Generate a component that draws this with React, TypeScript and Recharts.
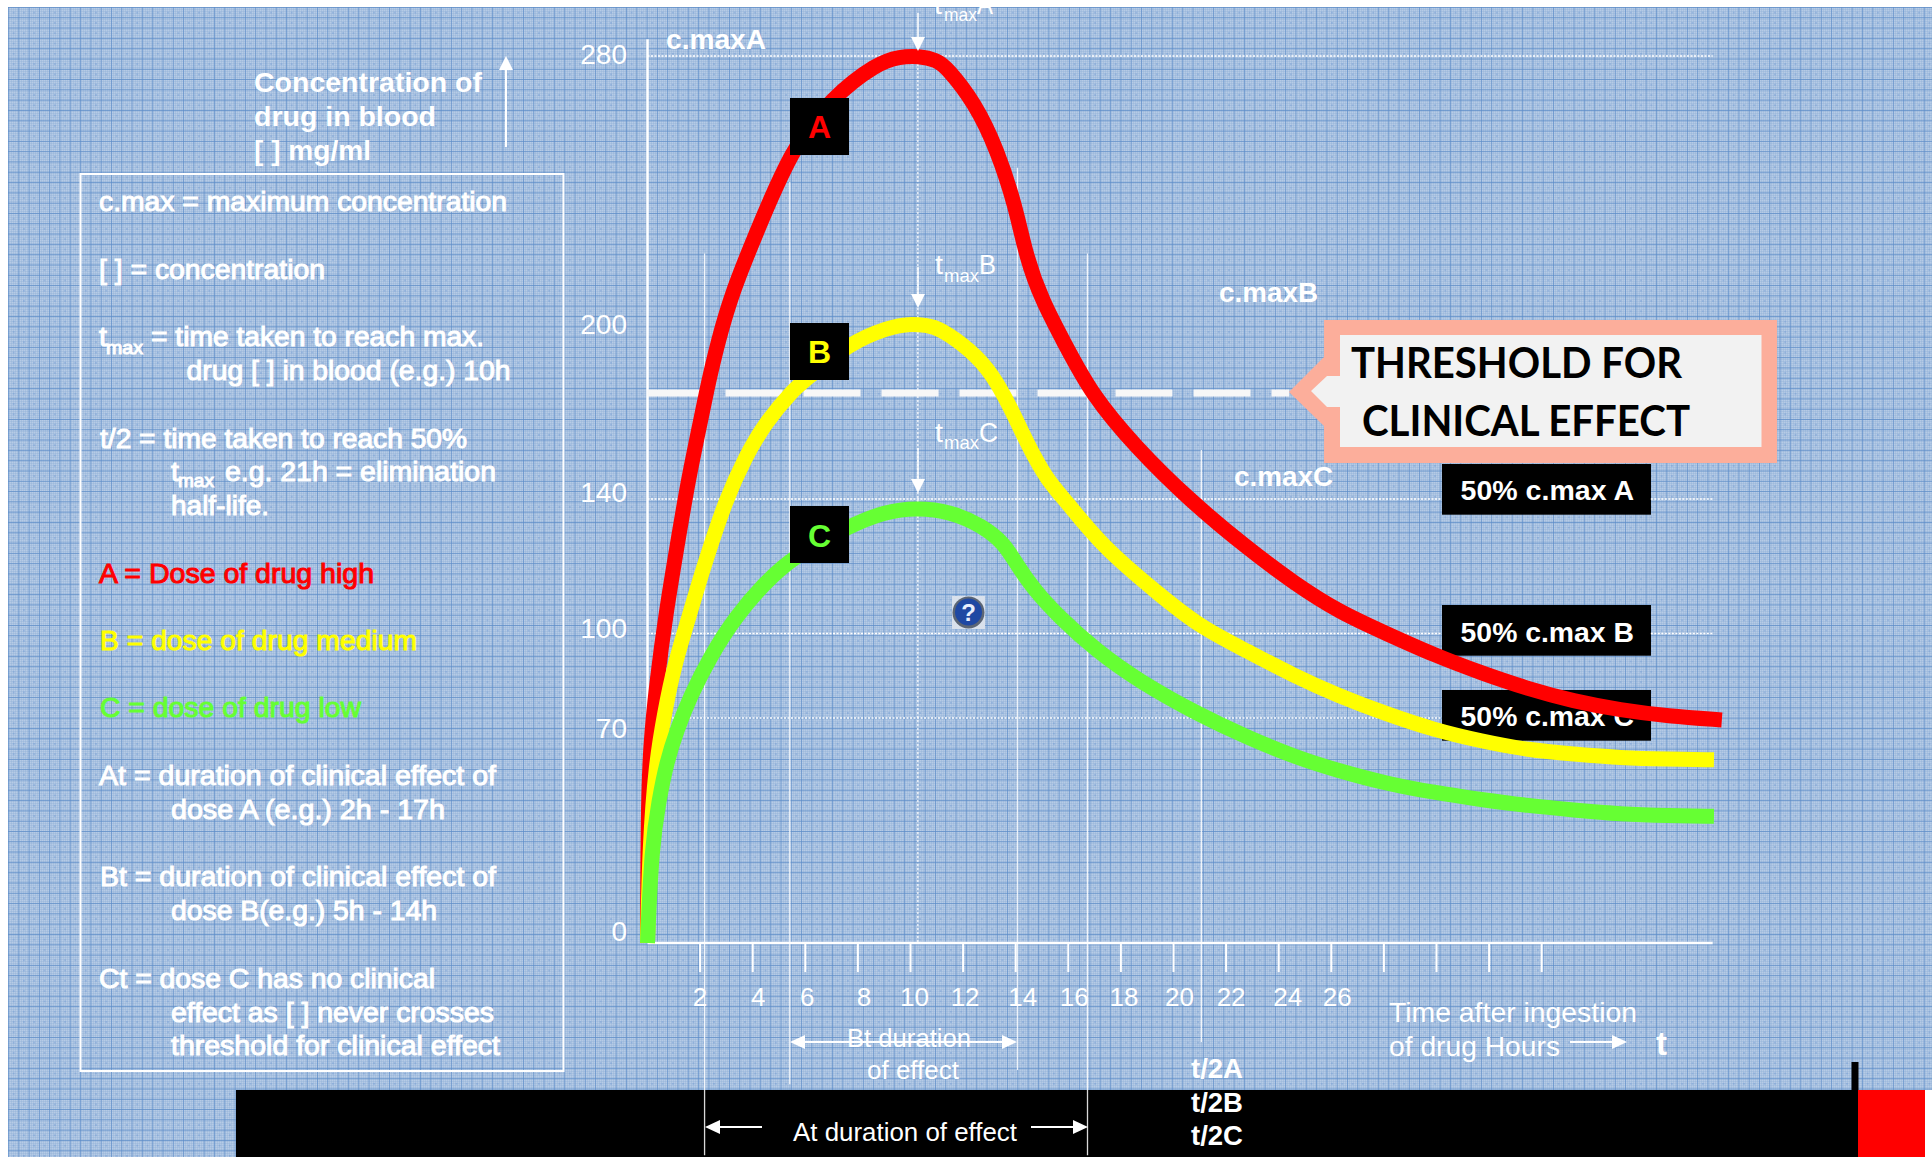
import { Line, LineChart, ReferenceLine, XAxis, YAxis } from 'recharts'

const WIDTH = 1932
const HEIGHT = 1157
const FONT = '"Liberation Sans", Arial, sans-serif'

// hours after ingestion / concentration
const hoursA = [0, 0.02, 0.1, 0.36, 0.7, 1.12, 1.55, 1.87, 2.25, 2.69, 3.25, 4.02, 5.5, 7, 8.73, 9.6, 10.3, 11, 11.4, 12.45, 13.3, 14, 14.4, 15, 15.85, 16.87, 18.56, 20.6, 22.8, 24.6, 26.3, 28.1, 29.9, 31.7, 33.5, 35.2, 37, 38.8, 40.85]
const doseA = [0, 40, 61, 83.5, 106, 125.8, 146.5, 160.2, 177.4, 194.5, 210, 225, 252.8, 267.5, 277.9, 279.8, 280, 278.8, 276.4, 266, 252, 235, 220, 207, 193.5, 176, 157.8, 139.7, 125.4, 114.9, 106.4, 100, 92.4, 86, 80.3, 76, 72.8, 70.7, 69.4]

const hoursB = [0, 0.08, 0.32, 0.65, 1, 1.62, 2.1, 2.98, 3.73, 4.47, 5.53, 6.01, 7.66, 9.22, 9.9, 10.6, 11.1, 12.3, 13.1, 13.8, 14.5, 15.2, 15.85, 17.3, 19.4, 21, 22.8, 24.6, 26.3, 28.1, 29.9, 31.7, 33.5, 35.2, 37, 38.8, 40.55]
const doseB = [0, 30, 56, 71.8, 88.2, 106.1, 119, 140, 154.5, 166, 177.4, 180.8, 193.5, 199, 200, 199.6, 198.6, 191, 183, 171.5, 157.8, 146.5, 140, 125.8, 112, 102, 93.8, 84.9, 77.8, 71.4, 66.3, 62.8, 60, 58.8, 57.6, 57.2, 57]

const hoursC = [0, 0.16, 0.44, 0.72, 1.12, 1.62, 2.38, 3.35, 4.45, 5.55, 7.62, 9, 10.24, 11.5, 12.75, 13.57, 14, 14.7, 15.65, 17.03, 18.7, 21, 22.8, 24.6, 26.3, 28.1, 29.9, 31.7, 33.5, 35.2, 37, 38.8, 40.55]
const doseC = [0, 30, 44.5, 56, 66.3, 77.6, 91.8, 105, 115, 122.9, 131.8, 136.2, 137.4, 136.3, 132, 126.7, 121, 113, 105, 94.2, 83, 71, 64, 57.9, 53.5, 49.6, 46.8, 44.6, 42.7, 41.4, 40.1, 39.6, 39.4]

const xTicks = [2, 4, 6, 8, 10, 12, 14, 16, 18, 20, 22, 24, 26, 28, 30, 32, 34]
const xLabelled = [2, 4, 6, 8, 10, 12, 14, 16, 18, 20, 22, 24, 26]
const yTicks = [0, 70, 100, 140, 200, 280]

const THRESHOLD = 176.3
const dottedLevels = [140, 100, 70]
const durationLines = [2.17, 5.41, 14.07, 16.73, 21.06]
const durationTops = [221, 242.4, 246.6, 221, 156.8]
const durationBottoms = [-66, -43.9, -39.5, -66, -30.8]

// the drawn y axis is not evenly spaced: fraction of the axis height at each labelled value
const yStops = [0, 70, 100, 140, 200, 280]
const yFractions = [0, 0.2537, 0.3488, 0.5006, 0.6979, 1]

// small d3-like scale so the hand drawn axis spacing goes through the library
function stretchedScale(dom = [0, 280], rng = [1, 0]) {
  const scale: any = (v: number) => {
    let i = 0
    while (i < yStops.length - 2 && v > yStops[i + 1]) i++
    const t = (v - yStops[i]) / (yStops[i + 1] - yStops[i])
    const f = yFractions[i] + t * (yFractions[i + 1] - yFractions[i])
    return rng[0] + f * (rng[1] - rng[0])
  }
  scale.domain = (d?: number[]) => (d ? stretchedScale(d, rng) : dom)
  scale.range = (r?: number[]) => (r ? stretchedScale(dom, r) : rng)
  scale.copy = () => stretchedScale(dom, rng)
  scale.ticks = () => yStops
  return scale
}

const toRows = (hours: number[], values: number[]) => hours.map((h, i) => ({ h, v: values[i] }))

const xLabelShift: Record<number, number> = { 2: 0, 4: 5.6, 6: 2, 8: 6, 10: 4, 12: 2, 14: 7, 16: 6, 18: 3, 20: 6, 22: 5, 24: 9, 26: 6 }
const yLabelShift: Record<number, number> = { 0: -12, 70: 11, 100: -5, 140: -6, 200: 1, 280: -2 }

function XTick({ x, payload }: any) {
  if (!xLabelled.includes(payload.value)) return null
  return (
    <text x={x + xLabelShift[payload.value]} y={1006} textAnchor="middle" fill="#fff" fontSize={26} fontFamily={FONT}>
      {payload.value}
    </text>
  )
}

function YTick({ y, payload }: any) {
  return (
    <text x={627} y={y + yLabelShift[payload.value] + 9.5} textAnchor="end" fill="#fff" fontSize={28} fontFamily={FONT}>
      {payload.value}
    </text>
  )
}

function T({ x, y, w, size = 27, bold = false, fill = '#fff', halo = false, family = FONT, children }: any) {
  return (
    <text
      x={x}
      y={y}
      textLength={w}
      lengthAdjust="spacingAndGlyphs"
      fontSize={size}
      fontWeight={bold ? 700 : 400}
      fontFamily={family}
      fill={fill}
      stroke={halo ? fill : 'none'}
      strokeWidth={halo ? 1 : 0}
    >
      {children}
    </text>
  )
}

function Background() {
  return (
    <svg width={WIDTH} height={HEIGHT} style={{ position: 'absolute', left: 0, top: 0 }}>
      <defs>
        <pattern id="dither" width="2" height="2" patternUnits="userSpaceOnUse">
          <rect width="1" height="1" fill="#c0d2ea" />
          <rect x="1" y="1" width="1" height="1" fill="#98b5da" />
        </pattern>
        <pattern id="paper" x="8" y="7" width="10.3" height="10.3" patternUnits="userSpaceOnUse">
          <rect x="5" y="5" width="1.2" height="1.2" fill="#6d98d2" />
          <path d="M0 0H10.3M0 0V10.3" stroke="#5c8cc8" strokeWidth="1.3" fill="none" />
        </pattern>
      </defs>
      <rect width={WIDTH} height={HEIGHT} fill="#fff" />
      <rect x={8} y={7} width={WIDTH - 8} height={HEIGHT - 7} fill="#a8c1e0" />
      <rect x={8} y={7} width={WIDTH - 8} height={HEIGHT - 7} fill="url(#dither)" opacity={0.6} />
      <rect x={8} y={7} width={WIDTH - 8} height={HEIGHT - 7} fill="url(#paper)" />
      <rect x={236} y={1090} width={1622} height={67} fill="#000" />
      <rect x={1851.5} y={1062} width={7} height={28} fill="#000" />
      <rect x={1858} y={1090} width={67} height={67} fill="#f00" />
      <rect x={1925} y={1090} width={7} height={67} fill="#fff" />

      {/* legend panel */}
      <rect x={80.5} y={174} width={483} height={897} fill="none" stroke="#fff" strokeWidth={2} />
      <g>
        <T x={254} y={92} w={228} bold>Concentration of</T>
        <T x={254} y={126} w={182} bold>drug in blood</T>
        <T x={254} y={160} w={117} bold>[ ] mg/ml</T>
        <T x={99} y={211} w={408} halo>c.max = maximum concentration</T>
        <T x={99} y={279} w={226} halo>[ ] = concentration</T>
        <T x={99} y={346} w={8} halo>t</T>
        <T x={106} y={354} w={37} size={19} halo>max</T>
        <T x={151} y={346} w={333} halo>= time taken to reach max.</T>
        <T x={186.5} y={380} w={324} halo>drug [ ] in blood (e.g.) 10h</T>
        <T x={100} y={447.7} w={367} halo>t/2 = time taken to reach 50%</T>
        <T x={171} y={481} w={8} halo>t</T>
        <T x={178} y={487} w={36} size={19} halo>max</T>
        <T x={225} y={481} w={271} halo>e.g. 21h = elimination</T>
        <T x={171} y={514.5} w={98} halo>half-life.</T>
        <T x={99} y={583} w={275} fill="#f00" halo>A = Dose of drug high</T>
        <T x={100} y={650} w={317} fill="#ff0" halo>B = dose of drug medium</T>
        <T x={100} y={717} w={261} fill="#66ff33" halo>C = dose of drug low</T>
        <T x={99} y={785} w={397} halo>At = duration of clinical effect of</T>
        <T x={171} y={819} w={274} halo>dose A (e.g.) 2h - 17h</T>
        <T x={100} y={886} w={396} halo>Bt = duration of clinical effect of</T>
        <T x={171} y={920} w={266} halo>dose B(e.g.) 5h - 14h</T>
        <T x={99} y={988} w={336} halo>Ct = dose C has no clinical</T>
        <T x={171} y={1022} w={323} halo>effect as [ ] never crosses</T>
        <T x={171} y={1055} w={329} halo>threshold for clinical effect</T>
      </g>
      <path d="M506 147V66" stroke="#fff" strokeWidth={2} />
      <path d="M506 56L499 70H513Z" fill="#fff" />

      {/* 50% tags sit under the curves */}
      {[464, 605, 690].map((top) => (
        <rect key={top} x={1442} y={top} width={209} height={50.7} fill="#000" />
      ))}
      <T x={1460.6} y={499.6} w={173.4} bold>50% c.max A</T>
      <T x={1460.6} y={641.8} w={173.4} bold>50% c.max B</T>
      <T x={1460.6} y={725.7} w={173.4} bold>50% c.max C</T>
    </svg>
  )
}

function Arrow({ x1, x2, y }: any) {
  const dir = x2 > x1 ? 1 : -1
  return (
    <g>
      <path d={`M${x1} ${y}H${x2 - dir * 14}`} stroke="#fff" strokeWidth={2} />
      <path d={`M${x2} ${y}L${x2 - dir * 15} ${y - 7}V${y + 7}Z`} fill="#fff" />
    </g>
  )
}

function DownArrow({ y1, y2 }: any) {
  return (
    <g>
      <path d={`M918 ${y1}V${y2 - 12}`} stroke="#fff" strokeWidth={1.5} />
      <path d={`M918 ${y2}L911 ${y2 - 14}H925Z`} fill="#fff" />
    </g>
  )
}

function Overlay() {
  return (
    <svg width={WIDTH} height={HEIGHT} style={{ position: 'absolute', left: 0, top: 0, pointerEvents: 'none' }}>
      <T x={666} y={49} w={100} bold>c.maxA</T>
      <T x={1219} y={302} w={99} bold>c.maxB</T>
      <T x={1234} y={486} w={99} bold>c.maxC</T>

      <clipPath id="paperTop"><rect x={0} y={7} width={WIDTH} height={HEIGHT} /></clipPath>
      <g clipPath="url(#paperTop)">
        <T x={934} y={13.5} w={8} size={27}>t</T>
        <T x={944} y={21} w={33} size={19}>max</T>
        <T x={977} y={13.5} w={16} size={27}>A</T>
      </g>
      <T x={935} y={274} w={8}>t</T>
      <T x={944} y={282} w={35} size={19}>max</T>
      <T x={979} y={274} w={17}>B</T>
      <T x={935} y={442} w={8}>t</T>
      <T x={944} y={449} w={35} size={19}>max</T>
      <T x={979} y={442} w={19}>C</T>
      <DownArrow y1={13} y2={51} />
      <DownArrow y1={267} y2={308} />
      <DownArrow y1={448} y2={493} />

      {/* curve tags */}
      <rect x={790} y={98} width={59} height={57} fill="#000" />
      <rect x={790} y={323} width={59} height={57} fill="#000" />
      <rect x={790} y={506} width={59} height={57} fill="#000" />
      <text x={819.5} y={138} textAnchor="middle" fontSize={32} fontWeight={700} fontFamily={FONT} fill="#f00">A</text>
      <text x={819.5} y={363} textAnchor="middle" fontSize={32} fontWeight={700} fontFamily={FONT} fill="#ff0">B</text>
      <text x={819.5} y={547} textAnchor="middle" fontSize={32} fontWeight={700} fontFamily={FONT} fill="#66ff33">C</text>

      {/* threshold callout */}
      <polygon points="1324,320 1777,320 1777,463 1324,463 1324,426 1289,392 1324,357" fill="#fcae9b" />
      <polygon points="1340,335 1761.5,335 1761.5,447 1340,447 1340,407 1327,407 1311,391 1327,376 1340,376" fill="#f2f2f2" />
      <T x={1351} y={377.5} w={331} size={42} bold fill="#000" family="Lato, sans-serif">THRESHOLD FOR</T>
      <T x={1362} y={436} w={328} size={42} bold fill="#000" family="Lato, sans-serif">CLINICAL EFFECT</T>

      {/* help badge */}
      <rect x={952} y={596} width={33} height={33} fill="#d9e1ec" />
      <circle cx={968.5} cy={612.5} r={16} fill="#5c6675" />
      <circle cx={968.5} cy={612} r={13.5} fill="#1f48a3" />
      <text x={968.5} y={621} textAnchor="middle" fontSize={24} fontWeight={700} fontFamily={FONT} fill="#e8eefc">?</text>

      {/* duration markers */}
      <Arrow x1={900} x2={790} y={1042} />
      <Arrow x1={900} x2={1017} y={1042} />
      <T x={847} y={1047} w={124} size={26}>Bt duration</T>
      <T x={867} y={1079} w={92} size={26}>of effect</T>
      <Arrow x1={762} x2={705} y={1127} />
      <Arrow x1={1031} x2={1088} y={1127} />
      <T x={793} y={1141} w={224} size={26}>At duration of effect</T>
      <T x={1191} y={1078} w={52} bold>t/2A</T>
      <T x={1191} y={1112} w={52} bold>t/2B</T>
      <T x={1191} y={1145} w={52} bold>t/2C</T>

      <T x={1389} y={1022} w={248} size={28}>Time after ingestion</T>
      <T x={1389} y={1056} w={171} size={28}>of drug Hours</T>
      <Arrow x1={1570} x2={1627} y={1042} />
      <T x={1656} y={1055} w={11} size={34} bold>t</T>
    </svg>
  )
}

export default function App() {
  return (
    <div style={{ position: 'absolute', left: 0, top: 0, width: WIDTH, height: HEIGHT, overflow: 'hidden' }}>
      <Background />
      <div style={{ position: 'absolute', left: 0, top: 0 }}>
        <LineChart width={WIDTH} height={HEIGHT} margin={{ top: 56, right: 206.2, bottom: 154, left: 587.5 }}>
          <XAxis
            type="number"
            dataKey="h"
            domain={[0, 41]}
            ticks={xTicks}
            height={60}
            axisLine={false}
            tickSize={29}
            tickLine={{ stroke: '#fff', strokeWidth: 2 }}
            tick={<XTick />}
            interval={0}
          />
          <YAxis
            type="number"
            width={60}
            domain={[0, 280]}
            scale={stretchedScale()}
            ticks={yTicks}
            axisLine={false}
            tickLine={false}
            tick={<YTick />}
            interval={0}
          />

          <ReferenceLine segment={[{ x: 0, y: 285 }, { x: 0, y: 0 }]} ifOverflow="visible" stroke="#fff" strokeWidth={2.5} />
          <ReferenceLine segment={[{ x: 0, y: 0 }, { x: 40.5, y: 0 }]} ifOverflow="visible" stroke="#fff" strokeWidth={2.5} />
          <ReferenceLine segment={[{ x: 0, y: 280 }, { x: 40.5, y: 280 }]} ifOverflow="visible" stroke="#fff" strokeWidth={1.5} strokeDasharray="2 1.5" />
          {dottedLevels.map((level) => (
            <ReferenceLine key={level} segment={[{ x: 0, y: level }, { x: 30.2, y: level }]} ifOverflow="visible" stroke="#fff" strokeWidth={1.5} strokeDasharray="2 1.5" />
          ))}
          {dottedLevels.map((level) => (
            <ReferenceLine key={`r${level}`} segment={[{ x: 38.15, y: level }, { x: 40.5, y: level }]} ifOverflow="visible" stroke="#fff" strokeWidth={1.5} strokeDasharray="2 1.5" />
          ))}
          <ReferenceLine segment={[{ x: 10.28, y: 280 }, { x: 10.28, y: 0 }]} ifOverflow="visible" stroke="#fff" strokeWidth={1.2} strokeDasharray="2 2" />
          {durationLines.map((hour, i) => (
            <ReferenceLine
              key={hour}
              segment={[{ x: hour, y: durationTops[i] }, { x: hour, y: durationBottoms[i] }]}
              ifOverflow="visible"
              stroke="#fff"
              strokeWidth={1.3}
              strokeOpacity={0.85}
            />
          ))}
          <ReferenceLine segment={[{ x: 0, y: THRESHOLD }, { x: 24.4, y: THRESHOLD }]} ifOverflow="visible" stroke="#f7f7f7" strokeWidth={7} strokeDasharray="57 21" />

          <Line data={toRows(hoursA, doseA)} dataKey="v" type="basis" stroke="#ff0000" strokeWidth={15} dot={false} isAnimationActive={false} />
          <Line data={toRows(hoursB, doseB)} dataKey="v" type="basis" stroke="#ffff00" strokeWidth={15} dot={false} isAnimationActive={false} />
          <Line data={toRows(hoursC, doseC)} dataKey="v" type="basis" stroke="#66ff33" strokeWidth={15} dot={false} isAnimationActive={false} />
        </LineChart>
      </div>
      <Overlay />
    </div>
  )
}
